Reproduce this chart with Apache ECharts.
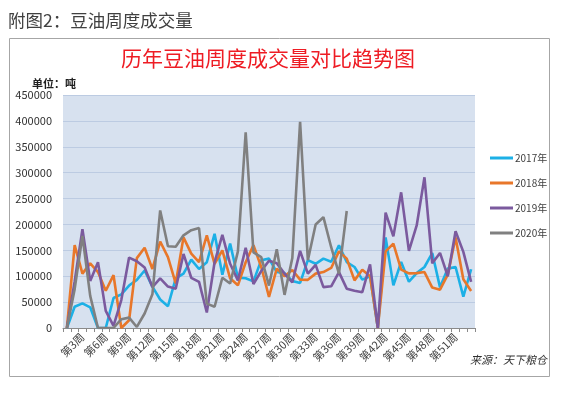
<!DOCTYPE html>
<html>
<head>
<meta charset="utf-8">
<script src="https://cdn.jsdelivr.net/npm/echarts@6/dist/echarts.min.js"></script>
<style>
html,body{margin:0;padding:0;background:#fff;}
#c{width:567px;height:394px;}
</style>
</head>
<body>
<div id="c"></div>
<script>
var weeks = ['第1周','第2周','第3周','第4周','第5周','第6周','第7周','第8周','第9周','第10周',
'第11周','第12周','第13周','第14周','第15周','第16周','第17周','第18周','第19周','第20周',
'第21周','第22周','第23周','第24周','第25周','第26周','第27周','第28周','第29周','第30周',
'第31周','第32周','第33周','第34周','第35周','第36周','第37周','第38周','第39周','第40周',
'第41周','第42周','第43周','第44周','第45周','第46周','第47周','第48周','第49周','第50周',
'第51周','第52周','第53周'];

var s2017 = [0,41000,47500,40000,0,0,58000,65000,82000,93000,
111000,80000,55000,42000,96000,105000,132000,114000,127000,182000,
103000,163000,97000,96000,90000,131000,134000,108000,106000,91000,
87000,131000,124000,134000,128000,159700,127400,117800,93500,100000,
0,175000,82400,127400,89500,106000,117800,144800,78500,114700,
117800,60500,113500];

var s2018 = [0,160000,105000,125000,108000,72000,102000,0,15000,135000,
155000,114000,167000,137000,86000,175000,143600,127400,179000,124000,
150000,96000,82400,127000,160000,117800,60000,114700,100000,112000,
93400,93000,105000,108000,116000,148000,134000,92000,112700,100000,
0,148000,163000,112700,105500,106000,108000,78000,74000,103000,
175000,94000,71400];

var s2019 = [0,90000,191000,91000,127000,33000,4000,54000,136000,129000,
117000,79000,96000,80000,76000,143000,97000,89000,30000,127000,
180000,124000,92000,155000,85000,110000,130000,125000,105000,88000,
149000,105000,122000,79000,80500,108000,76000,72000,69000,123000,
0,223000,177000,262000,149000,198000,291000,125000,145000,100000,
187000,147000,89000];

var s2020 = [0,75000,178000,62000,0,0,0,17000,20000,2000,
28000,65000,227000,158000,157000,179000,189000,193000,47000,41000,
97000,86000,148000,378000,146000,137000,82000,152000,64000,135000,
398000,131000,200000,214000,156000,105000,226000];

var seriesNames = ['2017年','2018年','2019年','2020年'];
var colors = ['#1cb0e6','#e8772a','#7b5a9e','#808080'];

var chart = echarts.init(document.getElementById('c'), null, {renderer:'canvas'});
var font = '"Noto Sans CJK SC","Noto Sans",sans-serif';

function mk(name, data, color){
  return {
    name: name, type: 'line', data: data, symbol: 'none', smooth: false,
    lineStyle: {width: 2.6, color: color}, itemStyle: {color: color},
    animation: false
  };
}

chart.setOption({
  backgroundColor: '#ffffff',
  animation: false,
  textStyle: {fontFamily: font},
  grid: {left: 63, right: 92, top: 95, bottom: 66, show: true, backgroundColor: '#d7e1ef', borderWidth: 0},
  legend: {
    data: seriesNames, orient: 'vertical', left: 485, top: 148,
    itemWidth: 23, itemHeight: 3, icon: 'rect', itemGap: 15,
    textStyle: {fontSize: 10, color: '#404040', fontFamily: font, padding: [0,0,0,-3]}
  },
  xAxis: {
    type: 'category', data: weeks, boundaryGap: true,
    axisLine: {lineStyle: {color: '#8a8a8a', width: 1}},
    axisTick: {show: true, interval: 0, length: 4, lineStyle: {color: '#8a8a8a'}},
    axisLabel: {
      rotate: 45, fontSize: 11, color: '#404040', margin: 7,
      interval: function(i){ return i % 3 === 2; }
    },
    splitLine: {show: false}
  },
  yAxis: {
    type: 'value', min: 0, max: 450000, interval: 50000,
    axisLine: {show: false}, axisTick: {show: false},
    axisLabel: {fontSize: 11, color: '#303030', margin: 11, formatter: function(v){ return String(v); }},
    splitLine: {lineStyle: {color: '#bccbe2', width: 1}}
  },
  graphic: [
    {type: 'text', left: 8, top: 12, style: {text: '附图2：豆油周度成交量', fill: '#404040', font: '17.5px ' + font}},
    {type: 'rect', shape: {x: 9.5, y: 38.5, width: 540, height: 338}, style: {fill: 'none', stroke: '#a6a6a6', lineWidth: 1}, z: -1},
    {type: 'text', left: 121, top: 48, style: {text: '历年豆油周度成交量对比趋势图', fill: '#ee1c24', font: '21px ' + font}},
    {type: 'text', left: 32, top: 78, style: {text: '单位：吨', fill: '#202020', font: 'bold 11px ' + font}},
    {type: 'text', left: 470, top: 354, style: {text: '来源：天下粮仓', fill: '#303030', font: 'italic 11px ' + font}}
  ],
  series: [
    mk(seriesNames[0], s2017, colors[0]),
    mk(seriesNames[1], s2018, colors[1]),
    mk(seriesNames[2], s2019, colors[2]),
    mk(seriesNames[3], s2020, colors[3])
  ]
});
</script>
</body>
</html>
